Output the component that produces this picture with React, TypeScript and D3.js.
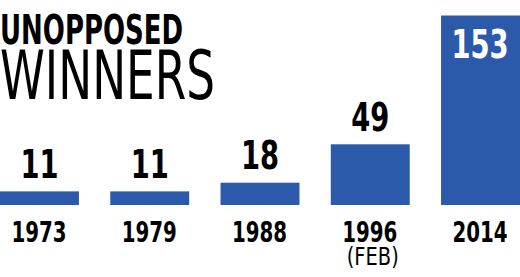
import React from "react";
import * as d3 from "d3";

const years = ["1973", "1979", "1988", "1996", "2014"];
const subLabels = ["", "", "", "(FEB)", ""];
const values = [11, 11, 18, 49, 153];
const titleLine1 = "UNOPPOSED";
const titleLine2 = "WINNERS";

const W = 520;
const H = 277;
const FONT = "'Liberation Sans Narrow', 'DejaVu Sans Condensed', 'Roboto', sans-serif";
const BLUE = "#2a5aa9";

export default function App() {
  const x = d3.scaleBand<string>().domain(years).range([0, 520]).paddingInner(0.284).paddingOuter(0);
  const y = d3.scaleLinear().domain([0, 153]).range([205, 15.5]);
  const maxV = d3.max(values) as number;

  return (
    <svg width={W} height={H} style={{ position: "absolute", left: 0, top: 0, background: "#fff" }}>
      <text x={0} y={44.3} fontFamily={FONT} fontWeight={700} fontSize={40} textLength={183} lengthAdjust="spacingAndGlyphs" fill="#000">
        {titleLine1}
      </text>
      <text x={0} y={99} fontFamily={FONT} fontWeight={400} fontSize={67} textLength={215} lengthAdjust="spacingAndGlyphs" fill="#000">
        {titleLine2}
      </text>
      {years.map((yr, i) => {
        const bx = x(yr) as number;
        const bw = x.bandwidth();
        const v = values[i];
        const top = y(v);
        const cx = bx + bw / 2;
        const inside = v === maxV;
        const ly = inside ? top + 42.8 : top - 13.4;
        const lx = inside ? cx - 0.5 : cx;
        return (
          <g key={yr}>
            <rect x={bx} y={top} width={bw} height={y(0) - top} fill={BLUE} />
            <text
              transform={`translate(${lx},${ly}) scale(0.78,1)`}
              textAnchor="middle"
              fontFamily={FONT}
              fontWeight={700}
              fontSize={39}
              fill={inside ? "#fff" : "#000"}
            >
              {v}
            </text>
            <text
              transform={`translate(${cx - 0.5},${241.7}) scale(0.8,1)`}
              textAnchor="middle"
              fontFamily={FONT}
              fontWeight={700}
              fontSize={27.5}
              fill="#000"
            >
              {yr}
            </text>
            {subLabels[i] && (
              <text
                transform={`translate(${cx + 2.5},${265}) scale(0.9,1)`}
                textAnchor="middle"
                fontFamily={FONT}
                fontWeight={400}
                fontSize={24}
                fill="#000"
              >
                {subLabels[i]}
              </text>
            )}
          </g>
        );
      })}
    </svg>
  );
}
